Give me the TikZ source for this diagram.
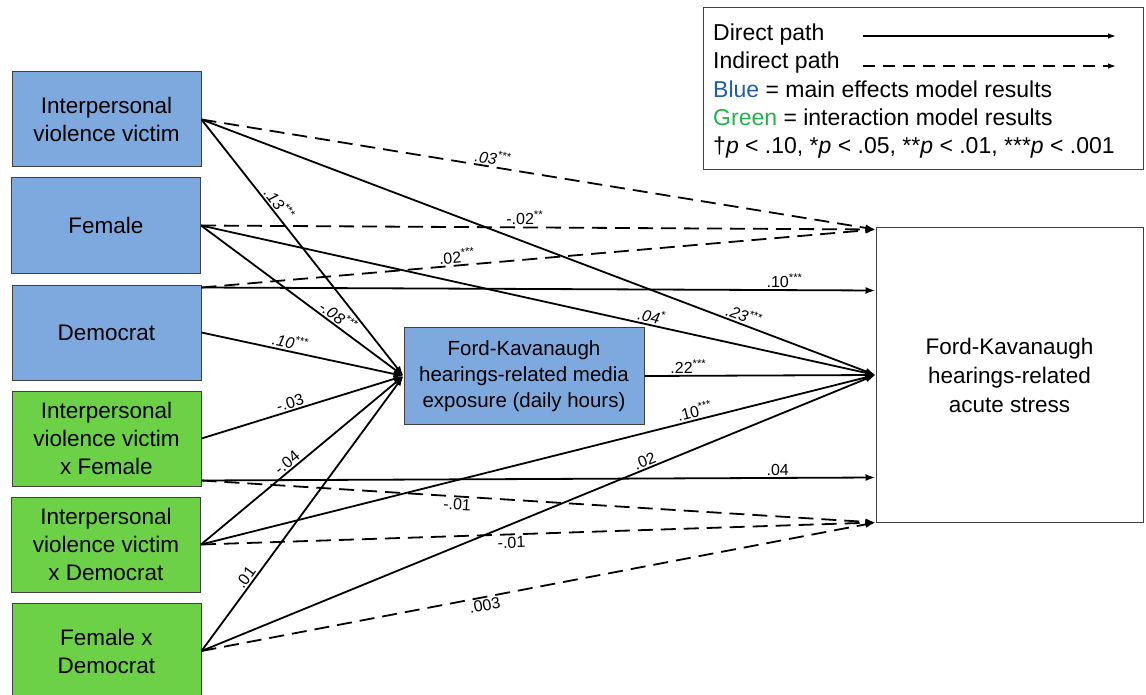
\documentclass[tikz,border=0pt]{standalone}
\usepackage{fontspec}
\setmainfont{Liberation Sans}
\usetikzlibrary{arrows.meta}
\definecolor{boxblue}{HTML}{7EA9DE}
\definecolor{boxgreen}{HTML}{6CD147}
\definecolor{txtblue}{HTML}{1F5CAB}
\definecolor{txtgreen}{HTML}{22B34A}
\begin{document}
\begin{tikzpicture}[x=1pt,y=-1pt,
  lbox/.style={draw=black!75, line width=1pt, minimum width=189pt, minimum height=95pt,
    align=center, font=\fontsize{22.5}{28}\selectfont, inner sep=0pt},
  bluebox/.style={lbox, fill=boxblue},
  greenbox/.style={lbox, fill=boxgreen},
  dpath/.style={line width=1.8pt, -{Latex[length=10pt,width=7pt]}},
  ipath/.style={dpath, dash pattern=on 15pt off 8pt},
  coef/.style={font=\fontsize{16}{19}\selectfont, inner sep=1.5pt, sloped},
  legtext/.style={anchor=base west, inner sep=0pt, font=\fontsize{23}{28}\selectfont},
  legarrow/.style={line width=1.3pt, -{Latex[length=8pt,width=5.5pt]}}
]
\useasboundingbox (0,0) rectangle (1146,695);

% left boxes
\node[bluebox] (ipv) at (106.5,119.5) {Interpersonal\\violence victim};
\node[bluebox] (fem) at (106,225.5) {Female};
\node[bluebox] (dem) at (106.5,332.5) {Democrat};
\node[greenbox] (ipvf) at (106.5,438.5) {Interpersonal\\violence victim\\x Female};
\node[greenbox] (ipvd) at (106,544.5) {Interpersonal\\violence victim\\x Democrat};
\node[greenbox, minimum height=96pt] (femd) at (106.5,651) {Female x\\Democrat};

% mediator and outcome
\node[bluebox, minimum width=240pt, minimum height=97pt, font=\fontsize{20.5}{26}\selectfont] (media) at (524,376)
  {Ford-Kavanaugh\\hearings-related media\\exposure (daily hours)};
\node[draw=black!75, line width=1pt, minimum width=267pt, minimum height=294pt, inner sep=0pt,
  align=center, font=\fontsize{22.5}{29}\selectfont] (stress) at (1009.5,375)
  {Ford-Kavanaugh\\hearings-related\\acute stress};

% legend
\node[draw=black!75, line width=1pt, minimum width=440pt, minimum height=162pt, inner sep=0pt] (legend) at (923,89) {};
\node[legtext] (lg1) at (713,41) {Direct path};
\node[legtext] (lg2) at (713,69) {Indirect path};
\node[legtext] (lg3) at (713,98) {\textcolor{txtblue}{Blue} = main effects model results};
\node[legtext] (lg4) at (713,126) {\textcolor{txtgreen}{Green} = interaction model results};
\node[legtext] (lg5) at (713,154) {†\textit{p} < .10, *\textit{p} < .05, **\textit{p} < .01, ***\textit{p} < .001};
\coordinate (la1) at (863,36);
\coordinate (la2) at (1116,36);
\coordinate (lb1) at (863,66);
\coordinate (lb2) at (1116,66);
\draw[legarrow] (la1) -- (la2);
\draw[legarrow, dash pattern=on 12pt off 8pt] (lb1) -- (lb2);

% anchor points
\coordinate (sTop) at ([yshift=-2pt]stress.north west);
\coordinate (sTen) at ([yshift=-63pt]stress.north west);
\coordinate (sFour) at ([yshift=45pt]stress.south west);
\coordinate (sBot) at (stress.south west);
\coordinate (dTop) at ([yshift=-3pt]dem.north east);
\coordinate (fLow) at ([yshift=6pt]ipvf.south east);

% paths from IPV victim
\draw[ipath] (ipv.east) -- node[coef,pos=.43,above] (c1) {\textit{.03\textsuperscript{***}}} (sTop);
\draw[dpath] (ipv.east) -- node[coef,pos=.80,above] (c2) {\textit{.23\textsuperscript{***}}} (stress.west);
\draw[dpath] (ipv.east) -- node[coef,pos=.35,above] (c3) {\textit{.13\textsuperscript{***}}} (media.west);

% paths from Female
\draw[ipath] (fem.east) -- node[coef,pos=.48,above] (c4) {-.02\textsuperscript{**}} (sTop);
\draw[dpath] (fem.east) -- node[coef,pos=.665,above] (c5) {\textit{.04\textsuperscript{*}}} (stress.west);
\draw[dpath] (fem.east) -- node[coef,pos=.65,above] (c6) {\textit{-.08\textsuperscript{***}}} (media.west);

% paths from Democrat
\draw[ipath] (dTop) -- node[coef,pos=.38,above] (c7) {.02\textsuperscript{***}} (sTop);
\draw[dpath] (dTop) -- node[coef,pos=.865,above] (c8) {.10\textsuperscript{***}} (sTen);
\draw[dpath] (dem.east) -- node[coef,pos=.43,above] (c9) {\textit{.10\textsuperscript{***}}} (media.west);

% mediator to outcome
\draw[dpath] (media.east) -- node[coef,pos=.19,above] (c10) {.22\textsuperscript{***}} (stress.west);

% paths from IPV x Female
\draw[dpath] (ipvf.east) -- node[coef,pos=.45,above] (c11) {-.03} (media.west);
\draw[dpath] (fLow) -- node[coef,pos=.855,above] (c12) {.04} (sFour);
\draw[ipath] (fLow) -- node[coef,pos=.38,below] (c13) {-.01} (sBot);

% paths from IPV x Democrat
\draw[dpath] (ipvd.east) -- node[coef,pos=.45,above] (c14) {-.04} (media.west);
\draw[dpath] (ipvd.east) -- node[coef,pos=.735,above] (c15) {.10\textsuperscript{***}} (stress.west);
\draw[ipath] (ipvd.east) -- node[coef,pos=.46,below] (c16) {-.01} (sBot);

% paths from Female x Democrat
\draw[dpath] (femd.east) -- node[coef,pos=.25,above] (c17) {.01} (media.west);
\draw[dpath] (femd.east) -- node[coef,pos=.662,above] (c18) {.02} (stress.west);
\draw[ipath] (femd.east) -- node[coef,pos=.418,below] (c19) {.003} (sBot);
\end{tikzpicture}
\end{document}
